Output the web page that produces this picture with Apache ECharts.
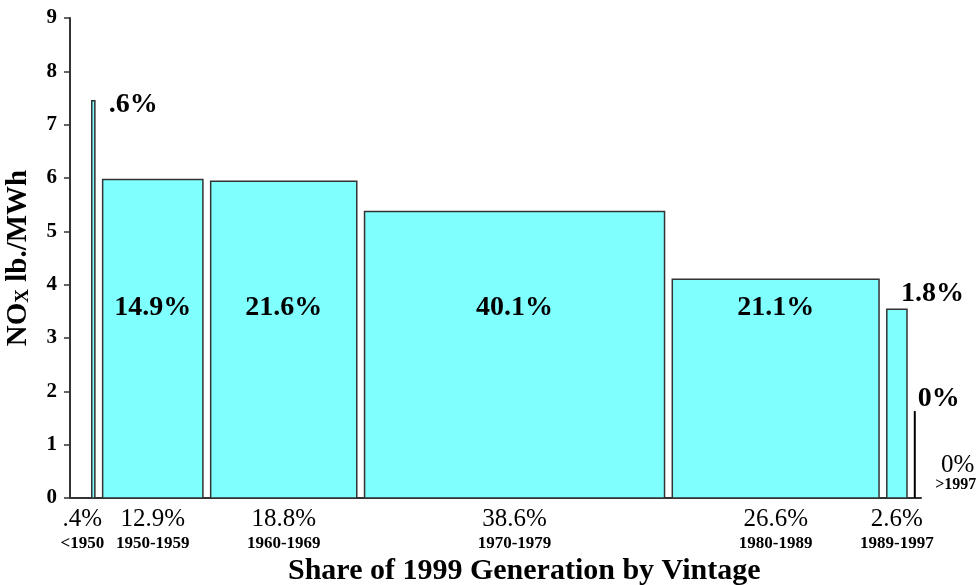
<!DOCTYPE html>
<html>
<head>
<meta charset="utf-8">
<script src="https://cdn.jsdelivr.net/npm/echarts@6/dist/echarts.min.js"></script>
<style>
html,body{margin:0;padding:0;background:#fff;}
#chart{width:979px;height:585px;}
</style>
</head>
<body>
<div id="chart"></div>
<script>
// ---- data ----
const vintages = ['<1950', '1950-1959', '1960-1969', '1970-1979', '1980-1989', '1989-1997', '>1997'];
const genShare = [0.4, 12.9, 18.8, 38.6, 26.6, 2.6, 0];
const genShareLabels = ['.4%', '12.9%', '18.8%', '38.6%', '26.6%', '2.6%', '0%'];
const noxRate = [7.45, 5.97, 5.94, 5.37, 4.10, 3.54, 1.63];
const emisShareLabels = ['.6%', '14.9%', '21.6%', '40.1%', '21.1%', '1.8%', '0%'];
const yTicks = [0, 1, 2, 3, 4, 5, 6, 7, 8, 9];

// ---- layout helpers (not data) ----
const FONT = "'Liberation Serif', 'Times New Roman', serif";
const START = 2.8, GAP = 1.0, INNER_LABEL_Y = 3.56;

const barData = [];
let cur = START;
genShare.forEach((s, i) => {
  barData.push([cur, cur + s, noxRate[i], i]);
  cur += s + GAP;
});

function renderItem(params, api) {
  const x0 = api.value(0), x1 = api.value(1), y = api.value(2), i = api.value(3);
  const pTop = api.coord([x0, y]);
  const pBot = api.coord([x1, 0]);
  const cx = (pTop[0] + pBot[0]) / 2;
  const axisY = pBot[1];
  const children = [];
  if (x1 - x0 > 0) {
    children.push({
      type: 'rect',
      shape: { x: pTop[0], y: pTop[1], width: pBot[0] - pTop[0], height: pBot[1] - pTop[1] },
      style: { fill: '#80FFFF', stroke: '#333333', lineWidth: 1.5 }
    });
  } else {
    children.push({
      type: 'line',
      shape: { x1: pTop[0], y1: pTop[1], x2: pTop[0], y2: axisY },
      style: { stroke: '#000', lineWidth: 2 }
    });
  }
  // emission share label
  let ex, ey, align;
  if (i >= 1 && i <= 4) {
    ex = cx; ey = api.coord([x0, INNER_LABEL_Y])[1]; align = 'center';
  } else if (i === 0) {
    ex = pBot[0] + 14; ey = pTop[1] + 4; align = 'left';
  } else if (i === 5) {
    ex = pBot[0] - 6; ey = pTop[1] - 15; align = 'left';
  } else {
    ex = pTop[0] + 3; ey = pTop[1] - 12; align = 'left';
  }
  children.push({
    type: 'text',
    style: { text: emisShareLabels[i], x: ex, y: ey, align: align, verticalAlign: 'middle',
      font: 'bold 28px ' + FONT, fill: '#000' }
  });
  // generation share + vintage labels
  let lx = cx, vx = cx, sy = axisY + 21, vy = axisY + 46, vFont = 'bold 17px ';
  if (i === 0) { lx = cx - 11; vx = lx; }
  if (i === 6) { lx = pTop[0] + 43; vx = pTop[0] + 41; sy = axisY - 33; vy = axisY - 13; vFont = 'bold 16px '; }
  children.push({
    type: 'text',
    style: { text: genShareLabels[i], x: lx, y: sy, align: 'center', verticalAlign: 'middle',
      font: '25px ' + FONT, fill: '#000' }
  });
  children.push({
    type: 'text',
    style: { text: vintages[i], x: vx, y: vy, align: 'center', verticalAlign: 'middle',
      font: vFont + FONT, fill: '#000' }
  });
  return { type: 'group', children: children };
}

const chart = echarts.init(document.getElementById('chart'), null, { renderer: 'canvas' });
chart.setOption({
  animation: false,
  backgroundColor: '#fff',
  grid: { left: 70, right: 58, top: 18, bottom: 87, containLabel: false, outerBoundsMode: 'none' },
  xAxis: {
    type: 'value', min: 0, max: 109.5,
    axisLine: { show: true, lineStyle: { color: '#333', width: 2 } },
    axisTick: { show: false }, axisLabel: { show: false }, splitLine: { show: false }
  },
  yAxis: {
    type: 'value', min: yTicks[0], max: yTicks[yTicks.length - 1], interval: 1,
    axisLine: { show: true, lineStyle: { color: '#333', width: 2 } },
    axisTick: { show: true, length: 6, inside: false, lineStyle: { color: '#333', width: 1.5 } },
    axisLabel: { show: true, margin: 13, fontFamily: FONT, fontWeight: 'bold', fontSize: 21, color: '#000',
      formatter: v => yTicks.includes(v) ? String(v) : '' },
    splitLine: { show: false },
    name: '{a|NO}{b|X}{a| lb./MWh}',
    nameLocation: 'middle', nameRotate: 90, nameGap: 37,
    nameTextStyle: {
      rich: {
        a: { fontFamily: FONT, fontWeight: 'bold', fontSize: 29, color: '#000' },
        b: { fontFamily: FONT, fontWeight: 'bold', fontSize: 19, color: '#000', verticalAlign: 'bottom', padding: [7, 0, 0, 0] }
      }
    }
  },
  graphic: [{
    type: 'text', left: 288, top: 556,
    style: { text: 'Share of 1999 Generation by Vintage', font: 'bold 30px ' + FONT, fill: '#000' }
  }],
  series: [{
    type: 'custom',
    renderItem: renderItem,
    encode: { x: [0, 1], y: 2 },
    clip: false,
    data: barData
  }]
});
</script>
</body>
</html>
